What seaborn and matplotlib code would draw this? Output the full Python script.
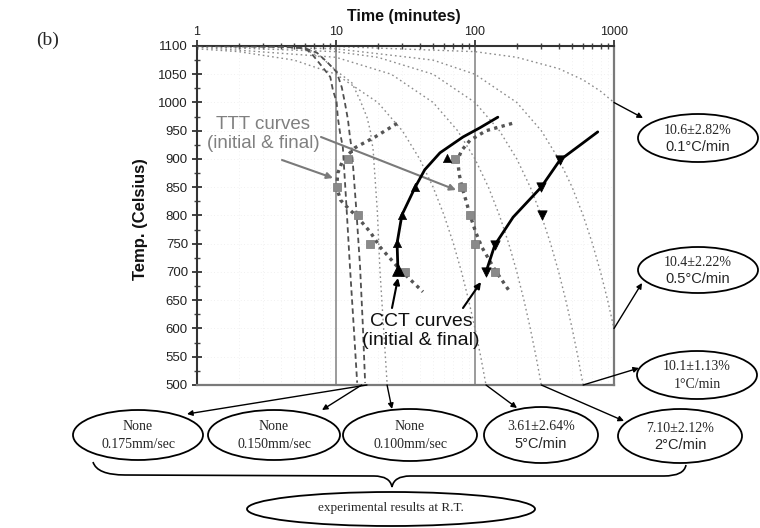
import numpy as np
import pandas as pd
import matplotlib
matplotlib.use('Agg')
import matplotlib.pyplot as plt
import matplotlib.transforms as mtransforms
from matplotlib.patches import Ellipse, PathPatch
from matplotlib.path import Path
from matplotlib.ticker import FixedLocator, MultipleLocator, NullFormatter
import seaborn as sns

# ---------------- data (time in minutes, temperature in Celsius) ----------------
# linear cooling curves
t_r01 = [1, 10, 100, 200, 400, 600, 800, 1000]
T_r01 = [1100, 1099, 1090, 1080, 1060, 1040, 1020, 1000]
t_r05 = [1, 10, 50, 100, 200, 300, 400, 500, 600, 700, 800, 900, 1000]
T_r05 = [1100, 1095, 1075, 1050, 1000, 950, 900, 850, 800, 750, 700, 650, 600]
t_r1 = [1, 10, 20, 50, 100, 150, 200, 250, 300, 350, 400, 450, 500, 550, 600]
T_r1 = [1099, 1090, 1080, 1050, 1000, 950, 900, 850, 800, 750, 700, 650, 600, 550, 500]
t_r2 = [1, 10, 25, 50, 75, 100, 125, 150, 175, 200, 225, 250, 275, 300]
T_r2 = [1098, 1080, 1050, 1000, 950, 900, 850, 800, 750, 700, 650, 600, 550, 500]
t_r5 = [1, 2, 5, 10, 20, 30, 40, 50, 60, 70, 80, 90, 100, 110, 120]
T_r5 = [1095, 1090, 1075, 1050, 1000, 950, 900, 850, 800, 750, 700, 650, 600, 550, 500]
# scan-speed curves (mm/sec)
t_s175 = [1, 4, 5.5, 6.2, 6.8, 8.1, 9.1, 9.5, 10.1, 10.3, 10.7, 11.2, 11.9, 12.6, 13.4, 14.2]
T_s175 = [1100, 1099, 1097, 1093, 1084, 1061, 1045, 1022, 1001, 974, 946, 921, 815, 709, 605, 504]
t_s150 = [1, 4, 6, 7.3, 8.6, 10.1, 11.0, 11.6, 12.2, 12.6, 13.0, 14.0, 14.9, 15.6, 16.2]
T_s150 = [1100, 1099, 1096, 1088, 1072, 1054, 1027, 999, 969, 939, 916, 810, 709, 605, 504]
t_s100 = [1, 4, 6, 8, 10.3, 13.0, 14.9, 16.7, 17.6, 18.5, 19.8, 20.7, 22.0, 23.3]
T_s100 = [1100, 1099, 1094, 1078, 1054, 1035, 1004, 974, 951, 916, 810, 704, 600, 504]

# TTT curves (initial & final)
t_ttt1 = [27.5, 19.1, 13.7, 11.2, 10.3, 10.1, 10.8, 12.0, 14.4, 17.6, 20.8, 28.9, 42.2]
T_ttt1 = [963, 939, 920, 898, 875, 850, 827, 815, 796, 771, 744, 704, 665]
t_ttt2 = [185, 120, 92, 80, 75, 77, 80.6, 86, 92, 101, 112, 139, 178]
T_ttt2 = [963, 950, 933, 915, 898, 873, 850, 827, 801, 771, 744, 704, 665]
t_ttt1_pts = [12.2, 10.1, 14.4, 17.6, 31.3]
T_ttt1_pts = [900, 850, 800, 750, 700]
t_ttt2_pts = [71.8, 80.6, 92, 99.6, 139]
T_ttt2_pts = [900, 850, 800, 750, 700]

# CCT curves (initial & final)
t_cct1 = [27.9, 27.5, 29.8, 37.1, 43.5, 56, 82, 108, 146]
T_cct1 = [704, 751, 801, 850, 881, 911, 939, 955, 974]
t_cct2 = [120, 139, 188, 299, 408, 573, 764]
T_cct2 = [700, 748, 797, 850, 898, 925, 948]
t_cct1_pts = [27.4, 29.8, 37.1, 62.8]
T_cct1_pts = [751, 801, 850, 902]
t_cct2_pts = [120, 139, 303, 299, 408]
T_cct2_pts = [700, 748, 801, 850, 898]

x_ticks = [1, 10, 100, 1000]
x_tick_labels = ['1', '10', '100', '1000']
y_ticks = list(range(500, 1101, 50))

# ---------------- figure ----------------
sns.set_theme(style='white')
plt.rcParams['font.family'] = ['Liberation Sans', 'DejaVu Sans']

W, H = 760, 528
fig = plt.figure(figsize=(W / 100, H / 100), dpi=100)
ax = fig.add_axes([197 / W, 1 - 385 / H, (614 - 197) / W, (385 - 46) / H])
px = mtransforms.Affine2D().scale(1 / W, -1 / H).translate(0, 1) + fig.transFigure

ax.set_xscale('log')
ax.set_xlim(1, 1000)
ax.set_ylim(500, 1100)

# faint grid
for xv in [2, 3, 4, 5, 6, 7, 8, 9, 20, 30, 40, 50, 60, 70, 80, 90, 200, 300, 400, 500, 600, 700, 800, 900]:
    ax.axvline(xv, color='#ececec', lw=0.6, ls=(0, (1, 3)), zorder=0)
for yv in y_ticks[1:-1]:
    ax.axhline(yv, color='#ececec', lw=0.6, ls=(0, (1, 3)), zorder=0)

ax.axvline(10, color='#8a8a8a', lw=1.2, zorder=1)
ax.axvline(100, color='#8a8a8a', lw=1.2, zorder=1)

def frame(ts, Ts, name):
    return pd.DataFrame({'t': ts, 'T': Ts, 'curve': name})

cool = pd.concat([frame(t_r01, T_r01, '0.1'), frame(t_r05, T_r05, '0.5'), frame(t_r1, T_r1, '1'),
                  frame(t_r2, T_r2, '2'), frame(t_r5, T_r5, '5'), frame(t_s100, T_s100, '0.100mm')])
sns.lineplot(data=cool, x='t', y='T', units='curve', estimator=None, sort=False, ax=ax,
             color='#8c8c8c', lw=1.0, linestyle=(0, (1.2, 2.2)), legend=False, zorder=2)

speed = pd.concat([frame(t_s175, T_s175, '0.175'), frame(t_s150, T_s150, '0.150')])
sns.lineplot(data=speed, x='t', y='T', units='curve', estimator=None, sort=False, ax=ax,
             color='#505050', lw=1.3, linestyle=(0, (3, 2)), legend=False, zorder=3)

ttt = pd.concat([frame(t_ttt1, T_ttt1, 'a'), frame(t_ttt2, T_ttt2, 'b')])
sns.lineplot(data=ttt, x='t', y='T', units='curve', estimator=None, sort=False, ax=ax,
             color='#555555', lw=2.4, linestyle=(0, (1, 1.3)), legend=False, zorder=4)

sns.scatterplot(x=t_ttt1_pts + t_ttt2_pts, y=T_ttt1_pts + T_ttt2_pts, marker='s', s=28,
                color='#8a8a8a', edgecolor='#777777', linewidth=0.5, ax=ax, zorder=5)

cct = pd.concat([frame(t_cct1, T_cct1, 'a'), frame(t_cct2, T_cct2, 'b')])
sns.lineplot(data=cct, x='t', y='T', units='curve', estimator=None, sort=False, ax=ax,
             color='black', lw=2.0, legend=False, zorder=6)
sns.scatterplot(x=[t_cct1[0]], y=[T_cct1[0]], marker='^', s=70, color='black', edgecolor='black', ax=ax, zorder=7)
sns.scatterplot(x=t_cct1_pts, y=T_cct1_pts, marker='^', s=35, color='black', edgecolor='black', ax=ax, zorder=7)
sns.scatterplot(x=t_cct2_pts, y=T_cct2_pts, marker='v', s=45, color='black', edgecolor='black', ax=ax, zorder=7)

# ---------------- axes styling ----------------
ax.xaxis.tick_top()
ax.xaxis.set_major_locator(FixedLocator(x_ticks))
ax.set_xticklabels(x_tick_labels)
ax.xaxis.set_minor_locator(FixedLocator([v * d for d in (1, 10, 100) for v in range(2, 10)]))
ax.xaxis.set_minor_formatter(NullFormatter())
ax.set_yticks(y_ticks)
ax.yaxis.set_minor_locator(MultipleLocator(25))
ax.tick_params(axis='x', which='major', direction='inout', length=8, width=1.2, top=True, bottom=False,
               labeltop=True, labelbottom=False, labelsize=9, pad=2, colors='#222222')
ax.tick_params(axis='x', which='minor', direction='inout', length=4, width=1, top=True, bottom=False,
               color='#444444')
ax.tick_params(axis='y', which='major', direction='inout', length=7, width=1.2, left=True, right=False,
               labelsize=9.5, pad=3, colors='#222222')
ax.tick_params(axis='y', which='minor', direction='inout', length=4, width=1, left=True, right=False,
               color='#444444')
ax.set_xlabel('')
ax.set_ylabel('')
for s in ['top', 'left']:
    ax.spines[s].set_color('#333333')
    ax.spines[s].set_linewidth(1.5)
for s in ['bottom', 'right']:
    ax.spines[s].set_color('#7a7a7a')
    ax.spines[s].set_linewidth(1.6)

fig.text(404, 16, 'Time (minutes)', transform=px, ha='center', va='center', fontsize=11.5,
         fontweight='bold', color='#111111')
fig.text(141, 219, 'Temp. (Celsius)', transform=px, ha='center', va='center', rotation=90,
         fontsize=12, fontweight='bold', color='#111111')
fig.text(48, 40, '(b)', transform=px, ha='center', va='center', fontsize=14,
         family=['Liberation Serif', 'DejaVu Serif'])

# TTT / CCT annotations
fig.text(263, 134, 'TTT curves\n(initial & final)', transform=px, ha='center', va='center',
         fontsize=13.5, color='#808080', linespacing=1.15)
fig.text(421, 331, 'CCT curves\n(initial & final)', transform=px, ha='center', va='center',
         fontsize=14, color='#111111', linespacing=1.1)
gray_arrow = dict(arrowstyle='-|>', color='#7a7a7a', lw=1.5, mutation_scale=9, shrinkA=0, shrinkB=0)
ax.annotate('', xy=(333, 178), xycoords=px, xytext=(282, 160), textcoords=px, arrowprops=gray_arrow,
            annotation_clip=False)
ax.annotate('', xy=(456, 190), xycoords=px, xytext=(321, 137), textcoords=px, arrowprops=gray_arrow,
            annotation_clip=False)
blk_arrow = dict(arrowstyle='-|>', color='black', lw=1.5, mutation_scale=9, shrinkA=0, shrinkB=0)
ax.annotate('', xy=(398, 278), xycoords=px, xytext=(392, 308), textcoords=px, arrowprops=blk_arrow,
            annotation_clip=False)
ax.annotate('', xy=(481, 282), xycoords=px, xytext=(463, 308), textcoords=px, arrowprops=blk_arrow,
            annotation_clip=False)

# ---------------- result ellipses ----------------
serif = ['Liberation Serif', 'DejaVu Serif']
sans = ['Liberation Sans', 'DejaVu Sans']
ellipses = [
    # cx, cy, w, h, line1, line2, font of line2, data tail, pixel head
    (698, 138, 120, 48, '10.6\u00b12.82%', '0.1\u00b0C/min', sans, (1000, 1000), (643, 118)),
    (698, 270, 120, 46, '10.4\u00b12.22%', '0.5\u00b0C/min', sans, (1000, 600), (642, 283)),
    (697, 375, 120, 48, '10.1\u00b11.13%', '1\u00b0C/min', serif, (600, 500), (639, 368)),
    (138, 435, 130, 50, 'None', '0.175mm/sec', serif, (16.7, 500), (187, 414)),
    (274, 435, 132, 50, 'None', '0.150mm/sec', serif, (15.3, 500), (322, 410)),
    (410, 435, 134, 52, 'None', '0.100mm/sec', serif, (23.3, 500), (392, 409)),
    (541, 435, 114, 56, '3.61\u00b12.64%', '5\u00b0C/min', sans, (120, 500), (517, 408)),
    (680, 436, 124, 54, '7.10\u00b12.12%', '2\u00b0C/min', sans, (300, 500), (624, 421)),
]
arrow_k = dict(arrowstyle='-|>', color='black', lw=1.0, mutation_scale=8, shrinkA=0, shrinkB=0)
for cx, cy, w, h, l1, l2, f2, tail, head in ellipses:
    fig.add_artist(Ellipse((cx, cy), w, h, transform=px, facecolor='white', edgecolor='black', lw=1.3))
    fig.text(cx, cy - 8, l1, transform=px, ha='center', va='center', fontsize=10, family=serif)
    fig.text(cx, cy + 9, l2, transform=px, ha='center', va='center', fontsize=10.5 if f2 is sans else 10,
             family=f2)
    ax.annotate('', xy=head, xycoords=px, xytext=tail, textcoords='data', arrowprops=arrow_k,
                annotation_clip=False)

# brace and experimental results ellipse
verts = [(93, 462), (97, 475), (125, 475), (374, 476), (390, 476), (392, 487),
         (394, 476), (410, 476), (664, 476), (684, 476), (686, 465)]
codes = [Path.MOVETO, Path.CURVE3, Path.CURVE3, Path.LINETO, Path.CURVE3, Path.CURVE3,
         Path.CURVE3, Path.CURVE3, Path.LINETO, Path.CURVE3, Path.CURVE3]
fig.add_artist(PathPatch(Path(verts, codes), transform=px, facecolor='none', edgecolor='black', lw=1.2))
fig.add_artist(Ellipse((391, 509), 288, 34, transform=px, facecolor='white', edgecolor='black', lw=1.3))
fig.text(391, 508, 'experimental results at R.T.', transform=px, ha='center', va='center', fontsize=9.5,
         family=serif)

fig.savefig('out.png', dpi=100)
